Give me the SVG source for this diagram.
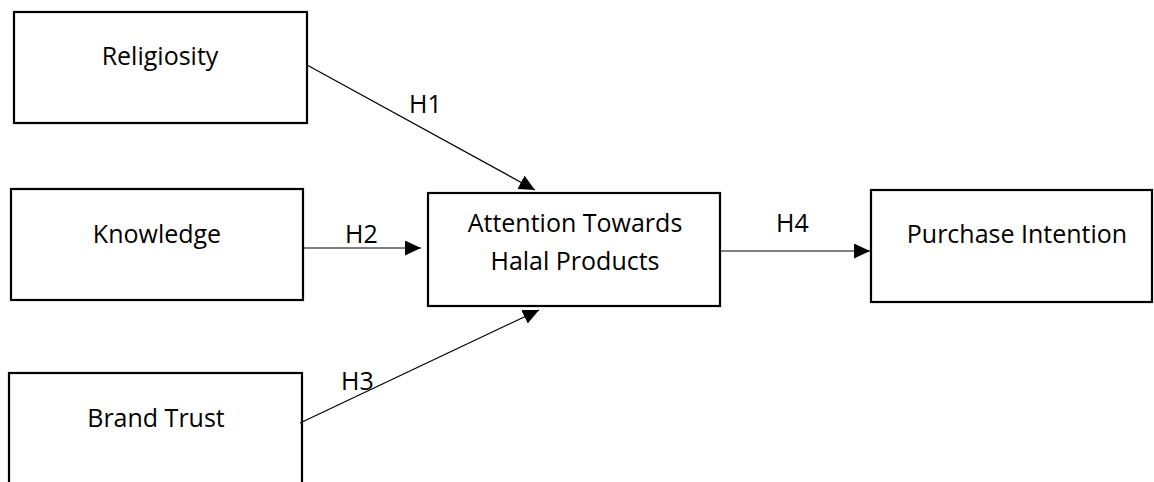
<svg xmlns="http://www.w3.org/2000/svg" width="1154" height="482" viewBox="0 0 1154 482">
<style>
.box{fill:#fff;stroke:#000;stroke-width:2.2}
.lbl{font-family:"Open Sans","Liberation Sans",sans-serif;font-size:25px;fill:#000;text-anchor:middle}
.h{font-family:"Open Sans","Liberation Sans",sans-serif;font-size:25px;fill:#000}
.con{stroke:#000;stroke-width:1.2;fill:none}
</style>
<defs>
<marker id="arr" markerUnits="userSpaceOnUse" markerWidth="16" markerHeight="16" refX="16" refY="7.5" orient="auto">
<path d="M0,0 L16,7.5 L0,15 z" fill="#000"/>
</marker>
</defs>
<rect width="1154" height="482" fill="#fff"/>
<g id="religiosity">
<rect class="box" x="14" y="12" width="293" height="111"/>
<text class="lbl" x="160" y="65">Religiosity</text>
</g>
<g id="knowledge">
<rect class="box" x="11" y="189" width="292" height="111"/>
<text class="lbl" x="157" y="243">Knowledge</text>
</g>
<g id="brand-trust">
<rect class="box" x="9" y="373" width="293" height="130"/>
<text class="lbl" x="156" y="427">Brand Trust</text>
</g>
<g id="attention">
<rect class="box" x="428" y="193" width="292" height="113"/>
<text class="lbl" x="575" y="232">Attention Towards</text>
<text class="lbl" x="575" y="270">Halal Products</text>
</g>
<g id="purchase">
<rect class="box" x="871" y="190" width="281" height="112"/>
<text class="lbl" x="1017" y="243">Purchase Intention</text>
</g>
<g id="connectors">
<line class="con" x1="307" y1="65" x2="535" y2="190" marker-end="url(#arr)"/>
<line class="con" x1="303" y1="248" x2="421" y2="248" marker-end="url(#arr)"/>
<line class="con" x1="300" y1="423" x2="539" y2="310" marker-end="url(#arr)"/>
<line class="con" x1="720" y1="251" x2="870" y2="251" marker-end="url(#arr)"/>
<text class="h" x="409" y="113">H1</text>
<text class="h" x="345" y="243">H2</text>
<text class="h" x="341" y="390">H3</text>
<text class="h" x="776" y="232">H4</text>
</g>
</svg>
